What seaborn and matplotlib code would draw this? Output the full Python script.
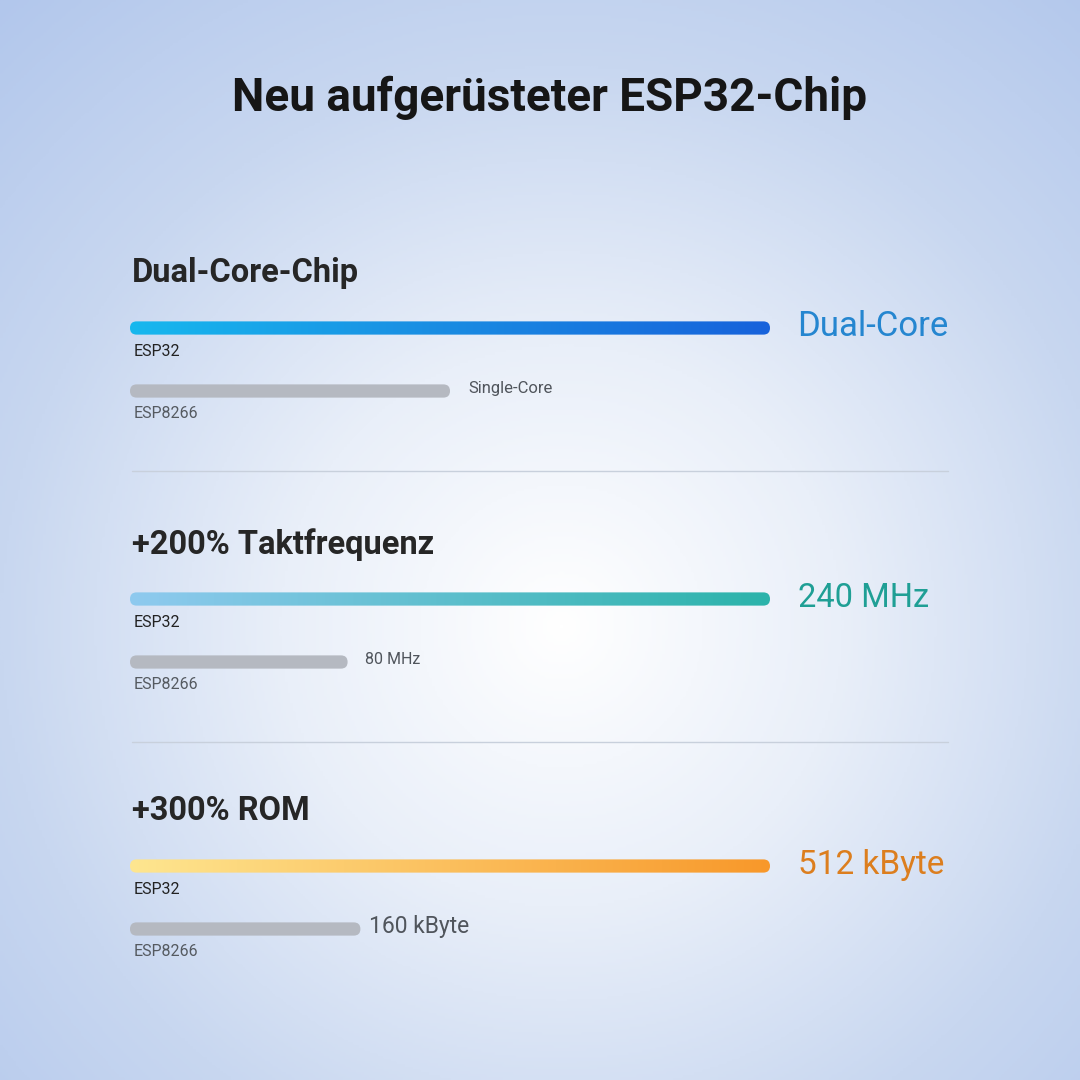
import numpy as np
import pandas as pd
import seaborn as sns
import matplotlib.pyplot as plt
from matplotlib.patches import FancyBboxPatch
from matplotlib.colors import LinearSegmentedColormap

TITLE = "Neu aufgerüsteter ESP32-Chip"
HEADINGS = ["Dual-Core-Chip", "+200% Taktfrequenz", "+300% ROM"]
CHIPS = ["ESP32", "ESP8266"]
# bar length as % of the full bar width
ESP32_LEN = [100, 100, 100]
ESP8266_LEN = [50, 34, 36]
ESP32_TEXT = ["Dual-Core", "240 MHz", "512 kByte"]
ESP8266_TEXT = ["Single-Core", "80 MHz", "160 kByte"]

# styling
GRADIENTS = [("#17b8ee", "#1a8be2", "#1762db"), ("#8fcaef", "#2bb3aa"), ("#fee690", "#f8982a")]
VALUE_COLORS = ["#2586d0", "#1f9f95", "#dc7e1e"]
VALUE_SIZES = [25, 23.5, 24]
SMALL_SIZES = [12, 11.5, 16.5]
SMALL_GAP = [2.8, 2.7, 1.4]
GREY = "#b5b9c1"
PANEL_Y = [328, 599, 866]   # pixel centre of the ESP32 bar of each panel
W, H = 1080, 1080

sns.set_style("white")
plt.rcParams["font.family"] = ["Roboto", "DejaVu Sans"]

fig = plt.figure(figsize=(10.8, 10.8), dpi=100)

# soft radial background
bg = fig.add_axes([0, 0, 1, 1], zorder=0)
yy, xx = np.mgrid[0:1:400j, 0:1:400j]
r = np.sqrt((xx - 0.52) ** 2 + (yy - 0.58) ** 2) / 0.78
bg_cmap = LinearSegmentedColormap.from_list("bg", ["#ffffff", "#e9eff9", "#c8d7f0", "#b2c7ec"])
bg.imshow(r, cmap=bg_cmap, extent=[0, 1, 0, 1], origin="upper", aspect="auto", vmin=0, vmax=1)
bg.axis("off")

fig.text(550 / W, 1 - 98 / H, TITLE, ha="center", va="center", fontsize=33,
         fontweight="bold", color="#161616")

for i in range(3):
    cy = PANEL_Y[i]
    ax = fig.add_axes([130 / W, 1 - (cy + 94.5) / H, 640 / W, 126 / H], zorder=2)
    ax.patch.set_alpha(0)
    df = pd.DataFrame({"chip": CHIPS, "length": [ESP32_LEN[i], ESP8266_LEN[i]]})
    sns.barplot(data=df, x="length", y="chip", order=CHIPS, width=0.21,
                color=GREY, ax=ax)
    ax.set_xlim(0, 100)
    ax.set_ylim(1.5, -0.5)

    # ratio of y-units per pixel to x-units per pixel, for round bar ends
    xu = 100 / 640
    yu = 2 / 126
    asp = yu / xu

    cmap = LinearSegmentedColormap.from_list(f"g{i}", GRADIENTS[i])
    for j, bar in enumerate(ax.patches[:2]):
        x0, y0 = bar.get_x(), bar.get_y()
        bw, bh = bar.get_width(), bar.get_height()
        bar.set_visible(False)
        rs = bh / asp / 2
        rb = FancyBboxPatch((x0, y0), bw, bh,
                            boxstyle=f"round,pad=0,rounding_size={rs}",
                            mutation_aspect=asp, linewidth=0,
                            facecolor=GREY if j == 1 else "none")
        ax.add_patch(rb)
        if j == 0:
            im = ax.imshow(np.linspace(0, 1, 256).reshape(1, -1), cmap=cmap,
                           extent=(x0, x0 + bw, y0 + bh, y0), aspect="auto",
                           interpolation="bilinear")
            im.set_clip_path(rb)
    ax.set_xlim(0, 100)
    ax.set_ylim(1.5, -0.5)
    ax.axis("off")

    ax.text(0.3, -0.87, HEADINGS[i], ha="left", va="center", fontsize=23.5,
            fontweight="bold", color="#262626")
    ax.text(0.5, 0.37, CHIPS[0], ha="left", va="center", fontsize=11.5,
            color="#222222")
    ax.text(0.5, 1.36, CHIPS[1], ha="left", va="center", fontsize=11.5,
            color="#555a60")
    ax.text(ESP32_LEN[i] + 4.3, -0.02, ESP32_TEXT[i], ha="left", va="center",
            fontsize=VALUE_SIZES[i], color=VALUE_COLORS[i], clip_on=False)
    ax.text(ESP8266_LEN[i] + SMALL_GAP[i], 0.96, ESP8266_TEXT[i], ha="left",
            va="center", fontsize=SMALL_SIZES[i], color="#50555c", clip_on=False)

    if i < 2:
        ax.plot([0.3, 127.8], [2.27, 2.27], color="#c8d0dc", lw=1, clip_on=False)

fig.savefig("out.png", dpi=100)
